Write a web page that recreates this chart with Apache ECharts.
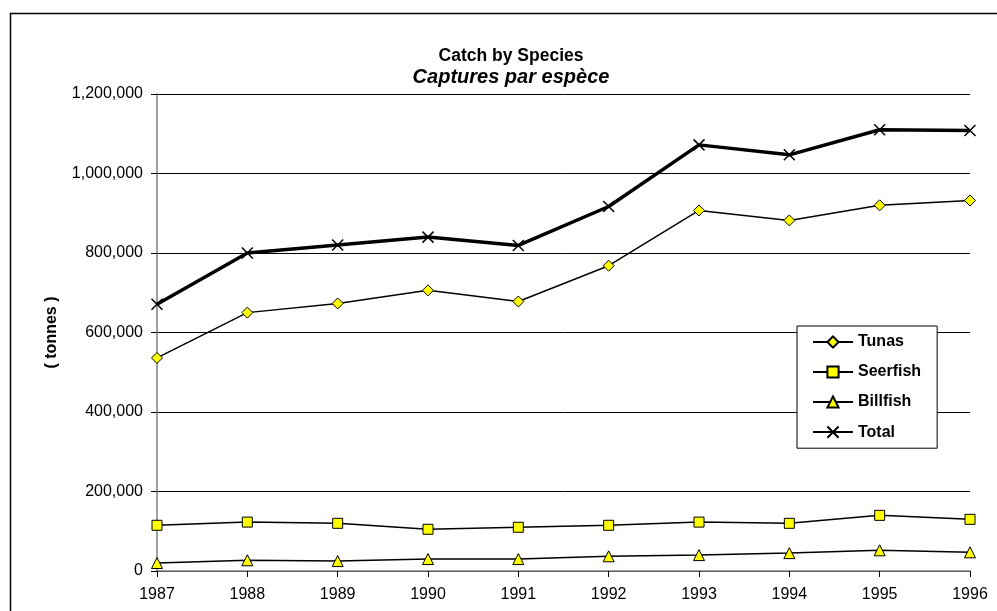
<!DOCTYPE html>
<html>
<head>
<meta charset="utf-8">
<style>
  html, body { margin: 0; padding: 0; background: #fff; }
  #chart { width: 997px; height: 611px; }
</style>
<script src="https://cdn.jsdelivr.net/npm/echarts@6/dist/echarts.min.js"></script>
</head>
<body>
<div id="chart"></div>
<script>
// values, tonnes
const years = ['1987', '1988', '1989', '1990', '1991', '1992', '1993', '1994', '1995', '1996']
const tunas = [536000, 650000, 673000, 706000, 678000, 768000, 907000, 882000, 920000, 932000]
const seerfish = [115000, 123000, 120000, 105000, 110000, 115000, 123000, 120000, 140000, 130000]
const billfish = [20000, 27000, 25000, 30000, 30000, 37000, 40000, 45000, 52000, 47000]
const total = [671000, 800000, 820000, 840000, 819000, 917000, 1072000, 1047000, 1110000, 1108000]

const font = 'Arial, "Liberation Sans", sans-serif'
const crossIcon = 'path://M0,0L10,10M10,0L0,10'

function thinSeries(name, data, symbol, size) {
  return {
    name: name,
    type: 'line',
    data: data,
    symbol: symbol,
    symbolSize: size,
    showAllSymbol: true,
    lineStyle: { color: '#000', width: 1.5 },
    itemStyle: { color: '#ffff00', borderColor: '#000', borderWidth: 1 },
    emphasis: { disabled: true },
    animation: false
  }
}

const chart = echarts.init(document.getElementById('chart'))
chart.setOption({
  backgroundColor: '#fff',
  title: [{
    text: 'Catch by Species',
    left: 506, top: 42, textAlign: 'center',
    textStyle: { fontFamily: font, fontSize: 17.5, fontWeight: 'bold', color: '#000' }
  }, {
    text: 'Captures par espèce',
    left: 506, top: 62, textAlign: 'center',
    textStyle: { fontFamily: font, fontSize: 20, fontWeight: 'bold', fontStyle: 'italic', color: '#000' }
  }],
  graphic: [{
    type: 'rect',
    shape: { x: 10.5, y: 13.5, width: 1100, height: 800 },
    style: { fill: 'none', stroke: '#000', lineWidth: 1.5 },
    silent: true
  }],
  legend: {
    orient: 'vertical',
    left: 797, top: 326,
    padding: [8, 16, 8, 15],
    itemGap: 14,
    itemWidth: 40,
    itemHeight: 14,
    backgroundColor: '#fff',
    borderColor: '#000',
    borderWidth: 1,
    textStyle: { fontFamily: font, fontSize: 16, fontWeight: 'bold', color: '#000' },
    data: ['Tunas', 'Seerfish', 'Billfish', 'Total']
  },
  grid: { left: 157, right: 27, top: 94, bottom: 40, containLabel: false },
  xAxis: {
    type: 'category',
    data: years,
    boundaryGap: false,
    axisLine: { lineStyle: { color: '#808080', width: 1.5 } },
    axisTick: { alignWithLabel: true, length: 6, lineStyle: { color: '#000' } },
    axisLabel: { fontFamily: font, fontSize: 16, color: '#000', margin: 16 },
    splitLine: { show: false }
  },
  yAxis: {
    type: 'value',
    min: 0, max: 1200000, interval: 200000,
    name: '( tonnes )',
    nameLocation: 'middle',
    nameGap: 97,
    nameRotate: 90,
    nameTextStyle: { fontFamily: font, fontSize: 16, fontWeight: 'bold', color: '#000' },
    axisLine: { show: true, lineStyle: { color: '#808080', width: 1.5 } },
    axisTick: { show: true, length: 6, lineStyle: { color: '#000' } },
    axisLabel: {
      fontFamily: font, fontSize: 16, color: '#000', margin: 14,
      formatter: function (v) { return v.toLocaleString('en-US') }
    },
    splitLine: { lineStyle: { color: '#000', width: 1 } }
  },
  series: [
    thinSeries('Tunas', tunas, 'diamond', 11),
    thinSeries('Seerfish', seerfish, 'rect', 10),
    thinSeries('Billfish', billfish, 'triangle', 11),
    {
      name: 'Total',
      type: 'line',
      data: total,
      symbol: crossIcon,
      symbolSize: 11,
      lineStyle: { color: '#000', width: 3.5 },
      itemStyle: { color: 'none', borderColor: '#000', borderWidth: 1.5 },
      emphasis: { disabled: true },
      animation: false
    }
  ]
})
</script>
</body>
</html>
